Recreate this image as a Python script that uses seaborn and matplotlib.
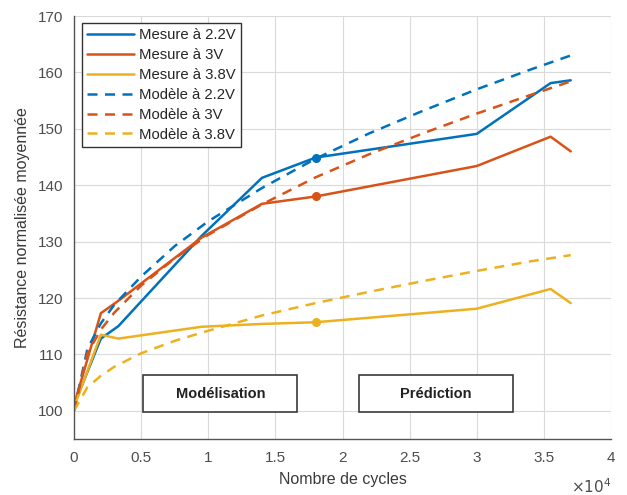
import matplotlib

matplotlib.use("Agg")
import matplotlib.pyplot as plt
import seaborn as sns
from matplotlib.patches import Rectangle
from matplotlib.ticker import FuncFormatter, MultipleLocator

# measured points (cycles, normalised resistance)
cycles_meas = [0, 2000, 3300, 9500, 14000, 18000, 30000, 35500, 37000]
meas_22 = [101.0, 112.8, 115.0, 131.0, 141.3, 144.9, 149.1, 158.1, 158.6]
meas_30 = [101.0, 117.3, 119.5, 130.7, 136.7, 138.0, 143.4, 148.6, 146.0]
meas_38 = [100.6, 113.5, 112.8, 114.9, 115.4, 115.7, 118.1, 121.6, 119.1]

# model curves
cycles_model = [0, 1000, 2000, 3000, 5000, 7500, 10000, 14000, 18000,
                22000, 26000, 30000, 34000, 37000]
model_22 = [100.0, 111.0, 115.5, 118.8, 123.8, 129.2, 133.6, 139.5, 144.7,
            149.2, 153.2, 157.0, 160.5, 163.0]
model_30 = [100.0, 110.2, 114.4, 117.4, 122.2, 127.0, 131.2, 136.6, 141.4,
            145.5, 149.2, 152.7, 156.0, 158.4]
model_38 = [100.0, 104.2, 106.2, 107.8, 110.2, 112.4, 114.2, 116.9, 119.1,
            121.1, 123.0, 124.8, 126.5, 127.6]

split_cycle = 18000
labels = ["Mesure à 2.2V", "Mesure à 3V", "Mesure à 3.8V",
          "Modèle à 2.2V", "Modèle à 3V", "Modèle à 3.8V"]
colors = ["#0072BD", "#D95319", "#EDB120"]

sns.set_style("whitegrid")
plt.rcParams["font.family"] = ["Liberation Sans", "DejaVu Sans"]

fig, ax = plt.subplots(figsize=(6.27, 4.95), dpi=100)
fig.subplots_adjust(left=74 / 627, right=611 / 627, top=1 - 16 / 495, bottom=1 - 439 / 495)

for y, c, lab in zip([meas_22, meas_30, meas_38], colors, labels[:3]):
    sns.lineplot(x=cycles_meas, y=y, color=c, lw=1.8, label=lab, ax=ax)
for y, c, lab in zip([model_22, model_30, model_38], colors, labels[3:]):
    sns.lineplot(x=cycles_model, y=y, color=c, lw=1.8, ls=(0, (4, 3)), label=lab, ax=ax)

# marker at the modelling / prediction boundary
i = cycles_meas.index(split_cycle)
for y, c in zip([meas_22, meas_30, meas_38], colors):
    ax.plot(split_cycle, y[i], "o", color=c, ms=5.5, zorder=5)

ax.set_xlim(0, 40000)
ax.set_ylim(95, 170)
ax.xaxis.set_major_locator(MultipleLocator(5000))
ax.yaxis.set_major_locator(MultipleLocator(10))
ax.xaxis.set_major_formatter(FuncFormatter(lambda v, p: f"{v / 1e4:g}"))
ax.grid(True, color="#dadada", lw=0.8)
for s in ["top", "right"]:
    ax.spines[s].set_visible(False)
for s in ["left", "bottom"]:
    ax.spines[s].set_color("#555555")
    ax.spines[s].set_linewidth(1.0)
ax.tick_params(direction="in", length=4, width=1, colors="#555555", labelsize=11,
               labelcolor="#4d4d4d")
ax.tick_params(axis="x", pad=9)
ax.tick_params(axis="y", pad=8)

ax.set_xlabel("Nombre de cycles", fontsize=11.5, color="#3a3a3a", labelpad=5)
ax.set_ylabel("Résistance normalisée moyennée", fontsize=11.5, color="#3a3a3a", labelpad=5)
ax.text(1.0, -0.09, r"$\times10^4$", transform=ax.transAxes, ha="right", va="top",
        fontsize=11, color="#4d4d4d")

# annotation boxes
for x0, x1, txt in [(5160, 16630, "Modélisation"), (21240, 32710, "Prédiction")]:
    ax.add_patch(Rectangle((x0, 99.8), x1 - x0, 6.5, fill=True, facecolor="white",
                           edgecolor="#3a3a3a", lw=1.2, zorder=4))
    ax.text((x0 + x1) / 2, 103.05, txt, ha="center", va="center", fontsize=10.5,
            fontweight="bold", color="#222222", zorder=6)

leg = ax.legend(loc="upper left", bbox_to_anchor=(0.0143, 0.984), borderaxespad=0,
                fontsize=10.7, frameon=True, fancybox=False, framealpha=1,
                edgecolor="#333333", handlelength=3.2, handletextpad=0.3,
                labelspacing=0.4, borderpad=0.35)
leg.get_frame().set_linewidth(1.0)

fig.savefig("out.png", dpi=100)
plt.close(fig)
